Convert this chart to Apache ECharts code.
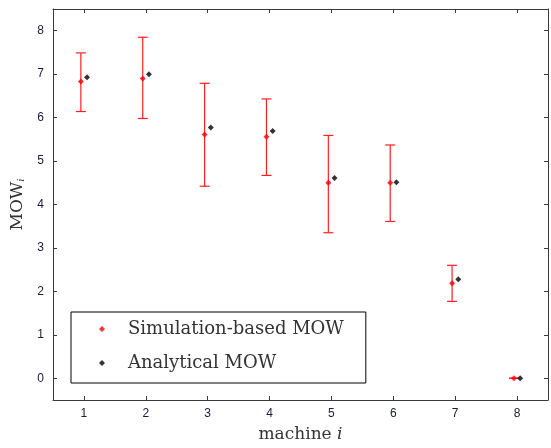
<!DOCTYPE html>
<html>
<head>
<meta charset="utf-8">
<script src="https://cdn.jsdelivr.net/npm/echarts@6/dist/echarts.min.js"></script>
<style>
html,body{margin:0;padding:0;background:#fff;}
#container{width:551px;height:448px;}
</style>
</head>
<body>
<div id="container"></div>
<script>
// machine index
var machines = [1, 2, 3, 4, 5, 6, 7, 8];
// simulation-based MOW (mean) and its error bar limits
var simMean = [6.83, 6.90, 5.61, 5.56, 4.50, 4.50, 2.19, 0.00];
var simLow  = [6.14, 5.98, 4.42, 4.67, 3.35, 3.61, 1.77, 0.00];
var simHigh = [7.49, 7.85, 6.79, 6.43, 5.59, 5.37, 2.60, 0.00];
// analytical MOW
var anaMean = [6.93, 7.00, 5.77, 5.69, 4.61, 4.51, 2.28, 0.00];
// tick labels
var xTicks = [1, 2, 3, 4, 5, 6, 7, 8];
var yTicks = [0, 1, 2, 3, 4, 5, 6, 7, 8];

var shift = 0.05; // red points drawn a bit left, black a bit right

var simData = [], errData = [], anaData = [];
for (var i = 0; i < machines.length; i++) {
    simData.push([machines[i] - shift, simMean[i]]);
    errData.push([machines[i] - shift, simLow[i], simHigh[i]]);
    anaData.push([machines[i] + shift, anaMean[i]]);
}

var tickColor = '#1a1a3a';
var frameColor = '#3a3a3a';

function baseAxis(extra) {
    var o = {
        type: 'value',
        axisLine: {show: true, onZero: false, lineStyle: {color: frameColor, width: 1}},
        splitLine: {show: false}
    };
    for (var k in extra) o[k] = extra[k];
    return o;
}

var option = {
    animation: false,
    backgroundColor: '#fff',
    grid: {left: 53, right: 3, top: 9, bottom: 47},
    xAxis: [
        baseAxis({
            position: 'bottom', min: 0.5, max: 8.5,
            axisTick: {show: true, inside: true, length: 4, customValues: xTicks, lineStyle: {color: frameColor}},
            axisLabel: {customValues: xTicks, color: tickColor, fontFamily: 'Liberation Sans', fontSize: 12, margin: 8},
            name: '{a|machine }{b|i}',
            nameLocation: 'middle',
            nameGap: 26,
            nameTextStyle: {
                rich: {
                    a: {fontFamily: 'DejaVu Serif', fontSize: 17, color: '#333'},
                    b: {fontFamily: 'DejaVu Serif', fontStyle: 'italic', fontSize: 17, color: '#333'}
                }
            }
        }),
        baseAxis({
            position: 'top', min: 0.5, max: 8.5,
            axisTick: {show: true, inside: true, length: 4, customValues: xTicks, lineStyle: {color: frameColor}},
            axisLabel: {show: false}
        })
    ],
    yAxis: [
        baseAxis({
            position: 'left', min: -0.5, max: 8.5,
            axisTick: {show: true, inside: true, length: 4, customValues: yTicks, lineStyle: {color: frameColor}},
            axisLabel: {customValues: yTicks, color: tickColor, fontFamily: 'Liberation Sans', fontSize: 12, margin: 9},
            name: '{a|MOW}{b|i}',
            nameLocation: 'middle',
            nameGap: 22,
            nameTextStyle: {
                rich: {
                    a: {fontFamily: 'DejaVu Serif', fontSize: 17, color: '#333'},
                    b: {fontFamily: 'DejaVu Serif', fontStyle: 'italic', fontSize: 10, color: '#333', padding: [8, 0, 0, 0]}
                }
            }
        }),
        baseAxis({
            position: 'right', min: -0.5, max: 8.5,
            axisTick: {show: true, inside: true, length: 4, customValues: yTicks, lineStyle: {color: frameColor}},
            axisLabel: {show: false}
        })
    ],
    legend: {
        data: ['Simulation-based MOW', 'Analytical MOW'],
        orient: 'vertical',
        left: 71,
        top: 312,
        padding: [8, 22, 11, 28],
        itemGap: 16,
        itemWidth: 6,
        itemHeight: 6,
        borderColor: '#000',
        borderWidth: 1,
        backgroundColor: '#fff',
        textStyle: {fontFamily: 'DejaVu Serif', fontSize: 18, lineHeight: 18, color: '#333', padding: [0, 0, 0, 18]}
    },
    series: [
        {
            name: 'errbar',
            type: 'custom',
            xAxisIndex: 0,
            yAxisIndex: 0,
            data: errData,
            renderItem: function (params, api) {
                var lo = api.coord([api.value(0), api.value(1)]);
                var hi = api.coord([api.value(0), api.value(2)]);
                var hw = 5;
                var st = {stroke: '#ff2020', lineWidth: 1.2};
                return {
                    type: 'group',
                    children: [
                        {type: 'line', shape: {x1: lo[0], y1: lo[1], x2: hi[0], y2: hi[1]}, style: st},
                        {type: 'line', shape: {x1: lo[0] - hw, y1: lo[1], x2: lo[0] + hw, y2: lo[1]}, style: st},
                        {type: 'line', shape: {x1: hi[0] - hw, y1: hi[1], x2: hi[0] + hw, y2: hi[1]}, style: st}
                    ]
                };
            },
            z: 2
        },
        {
            name: 'Simulation-based MOW',
            type: 'scatter',
            data: simData,
            symbol: 'diamond',
            symbolSize: 6,
            itemStyle: {color: '#ff0000'},
            z: 3
        },
        {
            name: 'Analytical MOW',
            type: 'scatter',
            data: anaData,
            symbol: 'diamond',
            symbolSize: 6,
            itemStyle: {color: '#000000'},
            z: 3
        }
    ]
};

echarts.init(document.getElementById('container')).setOption(option);
</script>
</body>
</html>
